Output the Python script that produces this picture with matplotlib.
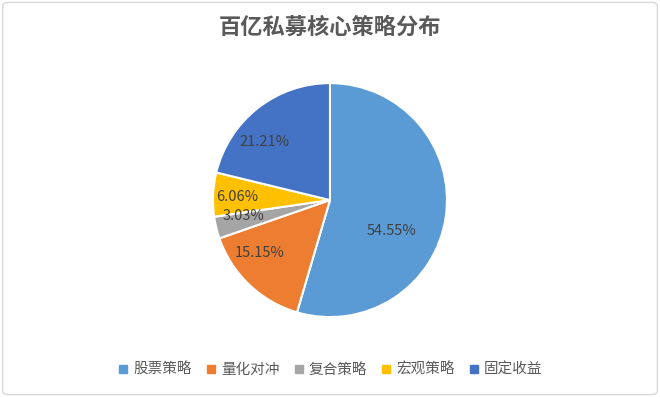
import matplotlib
matplotlib.use("Agg")
import matplotlib.pyplot as plt
from matplotlib.lines import Line2D
from matplotlib.patches import FancyBboxPatch

plt.rcParams['font.family'] = ['Noto Sans CJK SC', 'DejaVu Sans']

# data
labels = ['股票策略', '量化对冲', '复合策略', '宏观策略', '固定收益']
values = [54.55, 15.15, 3.03, 6.06, 21.21]
colors = ['#5B9BD5', '#ED7D31', '#A5A5A5', '#FFC000', '#4472C4']
title = '百亿私募核心策略分布'

# label positions in pie units (radius = 1)
label_pos = [(0.53, -0.26), (-0.60, -0.45), (-0.74, -0.14), (-0.79, 0.03), (-0.56, 0.50)]

fig = plt.figure(figsize=(6.6, 3.97), dpi=100)

# light rounded frame around the chart
frame = FancyBboxPatch((0.004, 0.006), 0.992, 0.988, boxstyle='round,pad=0,rounding_size=0.01',
                       transform=fig.transFigure, facecolor='none', edgecolor='#D9D9D9',
                       lw=1, zorder=-1)
fig.patches.append(frame)

ax = fig.add_axes([0.5 - 0.1773, 0.496 - 0.2947, 0.3545, 0.5894])
wedges, texts, autotexts = ax.pie(values, colors=colors, startangle=90, counterclock=False,
                                  autopct='%1.2f%%', radius=1,
                                  wedgeprops=dict(edgecolor='white', linewidth=1.5),
                                  textprops=dict(color='#404040', fontsize=10.5))
for t, (x, y) in zip(autotexts, label_pos):
    t.set_position((x, y))
ax.set_xlim(-1, 1)
ax.set_ylim(-1, 1)
ax.set_aspect('equal')

fig.text(0.5, 1 - 27 / 397, title, ha='center', va='center', fontsize=16,
         color='#595959', fontweight='bold')

handles = [Line2D([0], [0], marker='s', linestyle='', markersize=6, markerfacecolor=c,
                  markeredgecolor=c) for c in colors]
fig.legend(handles, labels, loc='center', bbox_to_anchor=(0.5, 1 - 370 / 397), ncol=5,
           frameon=False, fontsize=10.5, labelcolor='#595959', handlelength=0.8,
           handletextpad=0.3, columnspacing=0.9)

fig.savefig('out.png', dpi=100)
